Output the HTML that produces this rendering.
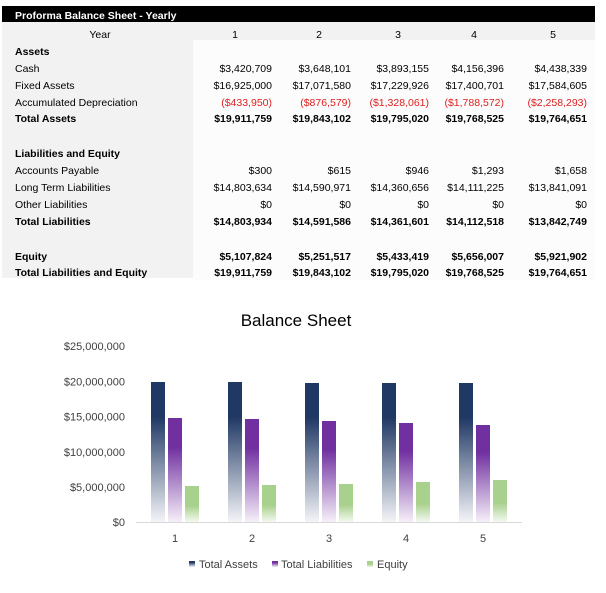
<!DOCTYPE html>
<html><head><meta charset="utf-8">
<style>
html,body{margin:0;padding:0;background:#fff;}
body{width:606px;height:593px;position:relative;overflow:hidden;font-family:"Liberation Sans",Arial,sans-serif;}
.bar{position:absolute;left:2px;top:6px;width:593px;height:16px;background:#000;}
.ttl{position:absolute;left:15px;top:10px;color:#fff;font-weight:bold;font-size:10.5px;line-height:12px;white-space:nowrap;}
.grayrow{position:absolute;left:2px;top:22px;width:593px;height:18px;background:#f2f2f2;}
.graycol{position:absolute;left:2px;top:40px;width:191px;height:238px;background:#f2f2f2;}
.whitearea{position:absolute;left:193px;top:40px;width:402px;height:240px;background:#fcfcfc;}
.t{position:absolute;font-size:10.5px;line-height:12px;white-space:nowrap;color:#000;}
.b{font-weight:bold;}
.r{color:#e0201f;}
.rt{text-align:right;width:80px;}
.ct{text-align:center;width:40px;}
</style></head><body>
<div class="bar"></div>
<div class="ttl">Proforma Balance Sheet - Yearly</div>
<div class="grayrow"></div>
<div class="graycol"></div>
<div class="whitearea"></div>

<div class="t ct" style="left:80px;top:29px;">Year</div>
<div class="t ct" style="left:215px;top:29px;">1</div>
<div class="t ct" style="left:299px;top:29px;">2</div>
<div class="t ct" style="left:378px;top:29px;">3</div>
<div class="t ct" style="left:454px;top:29px;">4</div>
<div class="t ct" style="left:533px;top:29px;">5</div>

<!-- labels -->
<div class="t b" style="left:15px;top:46px;">Assets</div>
<div class="t" style="left:15px;top:63px;">Cash</div>
<div class="t" style="left:15px;top:80px;">Fixed Assets</div>
<div class="t" style="left:15px;top:97px;">Accumulated Depreciation</div>
<div class="t b" style="left:15px;top:113px;">Total Assets</div>
<div class="t b" style="left:15px;top:148px;">Liabilities and Equity</div>
<div class="t" style="left:15px;top:165px;">Accounts Payable</div>
<div class="t" style="left:15px;top:182px;">Long Term Liabilities</div>
<div class="t" style="left:15px;top:199px;">Other Liabilities</div>
<div class="t b" style="left:15px;top:216px;">Total Liabilities</div>
<div class="t b" style="left:15px;top:251px;">Equity</div>
<div class="t b" style="left:15px;top:267px;">Total Liabilities and Equity</div>

<!-- col 1 (right 272) -->
<div class="t rt" style="left:192px;top:63px;">$3,420,709</div>
<div class="t rt" style="left:192px;top:80px;">$16,925,000</div>
<div class="t rt r" style="left:192px;top:97px;">($433,950)</div>
<div class="t rt b" style="left:192px;top:113px;">$19,911,759</div>
<div class="t rt" style="left:192px;top:165px;">$300</div>
<div class="t rt" style="left:192px;top:182px;">$14,803,634</div>
<div class="t rt" style="left:192px;top:199px;">$0</div>
<div class="t rt b" style="left:192px;top:216px;">$14,803,934</div>
<div class="t rt b" style="left:192px;top:251px;">$5,107,824</div>
<div class="t rt b" style="left:192px;top:267px;">$19,911,759</div>

<!-- col 2 (right 351) -->
<div class="t rt" style="left:271px;top:63px;">$3,648,101</div>
<div class="t rt" style="left:271px;top:80px;">$17,071,580</div>
<div class="t rt r" style="left:271px;top:97px;">($876,579)</div>
<div class="t rt b" style="left:271px;top:113px;">$19,843,102</div>
<div class="t rt" style="left:271px;top:165px;">$615</div>
<div class="t rt" style="left:271px;top:182px;">$14,590,971</div>
<div class="t rt" style="left:271px;top:199px;">$0</div>
<div class="t rt b" style="left:271px;top:216px;">$14,591,586</div>
<div class="t rt b" style="left:271px;top:251px;">$5,251,517</div>
<div class="t rt b" style="left:271px;top:267px;">$19,843,102</div>

<!-- col 3 (right 429) -->
<div class="t rt" style="left:349px;top:63px;">$3,893,155</div>
<div class="t rt" style="left:349px;top:80px;">$17,229,926</div>
<div class="t rt r" style="left:349px;top:97px;">($1,328,061)</div>
<div class="t rt b" style="left:349px;top:113px;">$19,795,020</div>
<div class="t rt" style="left:349px;top:165px;">$946</div>
<div class="t rt" style="left:349px;top:182px;">$14,360,656</div>
<div class="t rt" style="left:349px;top:199px;">$0</div>
<div class="t rt b" style="left:349px;top:216px;">$14,361,601</div>
<div class="t rt b" style="left:349px;top:251px;">$5,433,419</div>
<div class="t rt b" style="left:349px;top:267px;">$19,795,020</div>

<!-- col 4 (right 504) -->
<div class="t rt" style="left:424px;top:63px;">$4,156,396</div>
<div class="t rt" style="left:424px;top:80px;">$17,400,701</div>
<div class="t rt r" style="left:424px;top:97px;">($1,788,572)</div>
<div class="t rt b" style="left:424px;top:113px;">$19,768,525</div>
<div class="t rt" style="left:424px;top:165px;">$1,293</div>
<div class="t rt" style="left:424px;top:182px;">$14,111,225</div>
<div class="t rt" style="left:424px;top:199px;">$0</div>
<div class="t rt b" style="left:424px;top:216px;">$14,112,518</div>
<div class="t rt b" style="left:424px;top:251px;">$5,656,007</div>
<div class="t rt b" style="left:424px;top:267px;">$19,768,525</div>

<!-- col 5 (right 587) -->
<div class="t rt" style="left:507px;top:63px;">$4,438,339</div>
<div class="t rt" style="left:507px;top:80px;">$17,584,605</div>
<div class="t rt r" style="left:507px;top:97px;">($2,258,293)</div>
<div class="t rt b" style="left:507px;top:113px;">$19,764,651</div>
<div class="t rt" style="left:507px;top:165px;">$1,658</div>
<div class="t rt" style="left:507px;top:182px;">$13,841,091</div>
<div class="t rt" style="left:507px;top:199px;">$0</div>
<div class="t rt b" style="left:507px;top:216px;">$13,842,749</div>
<div class="t rt b" style="left:507px;top:251px;">$5,921,902</div>
<div class="t rt b" style="left:507px;top:267px;">$19,764,651</div>

<svg style="position:absolute;left:0;top:0" width="606" height="593" viewBox="0 0 606 593" font-family="Liberation Sans, Arial, sans-serif">
<defs>
<linearGradient id="ga" x1="0" y1="0" x2="0" y2="1">
<stop offset="0" stop-color="#203864"/>
<stop offset="0.25" stop-color="#203864"/>
<stop offset="1" stop-color="#f4f5f8"/>
</linearGradient>
<linearGradient id="gl" x1="0" y1="0" x2="0" y2="1">
<stop offset="0" stop-color="#7030a0"/>
<stop offset="0.28" stop-color="#7030a0"/>
<stop offset="1" stop-color="#f6f0f9"/>
</linearGradient>
<linearGradient id="ge" x1="0" y1="0" x2="0" y2="1">
<stop offset="0" stop-color="#a9d18e"/>
<stop offset="0.55" stop-color="#a9d18e"/>
<stop offset="1" stop-color="#f4f9f1"/>
</linearGradient>
</defs>
<text x="296" y="326" font-size="17" text-anchor="middle" fill="#000">Balance Sheet</text>
<g font-size="11" fill="#404040" text-anchor="end">
<text x="125" y="350">$25,000,000</text>
<text x="125" y="385.5">$20,000,000</text>
<text x="125" y="420.5">$15,000,000</text>
<text x="125" y="456">$10,000,000</text>
<text x="125" y="491">$5,000,000</text>
<text x="125" y="526">$0</text>
</g>
<line x1="136" y1="522.5" x2="522" y2="522.5" stroke="#d9d9d9" stroke-width="1"/>
<g>
<rect x="151" y="382" width="14" height="140" fill="url(#ga)"/>
<rect x="168" y="418" width="14" height="104" fill="url(#gl)"/>
<rect x="185" y="486" width="14" height="36" fill="url(#ge)"/>

<rect x="228" y="382" width="14" height="140" fill="url(#ga)"/>
<rect x="245" y="419" width="14" height="103" fill="url(#gl)"/>
<rect x="262" y="485" width="14" height="37" fill="url(#ge)"/>

<rect x="305" y="383" width="14" height="139" fill="url(#ga)"/>
<rect x="322" y="421" width="14" height="101" fill="url(#gl)"/>
<rect x="339" y="484" width="14" height="38" fill="url(#ge)"/>

<rect x="382" y="383" width="14" height="139" fill="url(#ga)"/>
<rect x="399" y="423" width="14" height="99" fill="url(#gl)"/>
<rect x="416" y="482" width="14" height="40" fill="url(#ge)"/>

<rect x="459" y="383" width="14" height="139" fill="url(#ga)"/>
<rect x="476" y="425" width="14" height="97" fill="url(#gl)"/>
<rect x="493" y="480" width="14" height="42" fill="url(#ge)"/>
</g>
<g font-size="11" fill="#404040" text-anchor="middle">
<text x="175" y="542">1</text>
<text x="252" y="542">2</text>
<text x="329" y="542">3</text>
<text x="406" y="542">4</text>
<text x="483" y="542">5</text>
</g>
<rect x="189" y="561" width="6" height="6" fill="url(#ga)"/>
<rect x="272" y="561" width="6" height="6" fill="url(#gl)"/>
<rect x="367" y="561" width="6" height="6" fill="url(#ge)"/>
<g font-size="11" fill="#404040">
<text x="199" y="568">Total Assets</text>
<text x="281" y="568">Total Liabilities</text>
<text x="377" y="568">Equity</text>
</g>
</svg>
</body></html>
